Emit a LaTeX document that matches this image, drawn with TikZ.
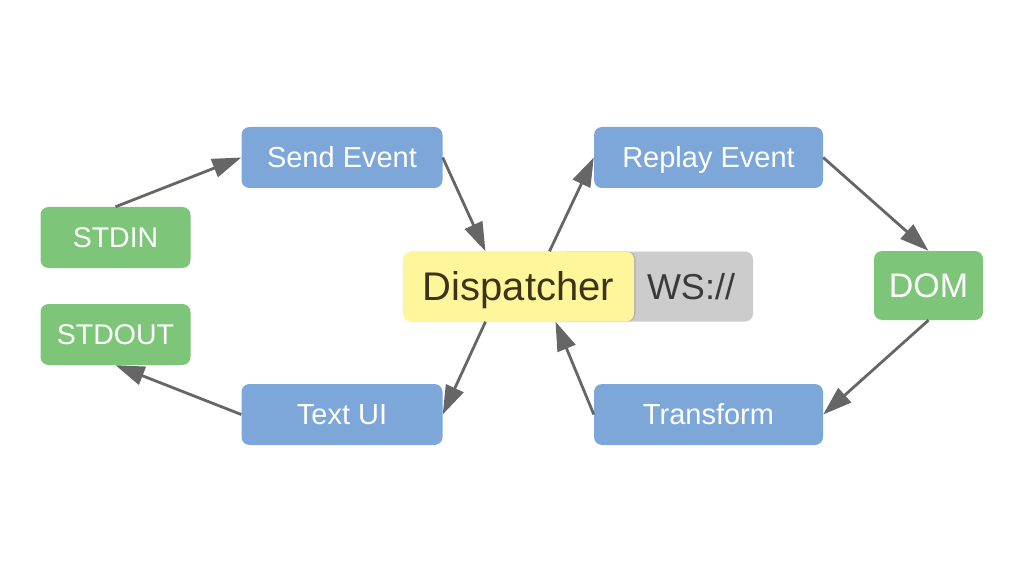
\documentclass[tikz,border=0pt]{standalone}
\usepackage{fontspec}
\setmainfont{Liberation Sans}
\usetikzlibrary{arrows.meta,shadows}

\definecolor{stepblue}{HTML}{7CA7D8}
\definecolor{iogreen}{HTML}{7DC679}
\definecolor{hubyellow}{HTML}{FFF59B}
\definecolor{hubtext}{HTML}{3A3518}
\definecolor{wsgray}{HTML}{CCCCCC}
\definecolor{wstext}{HTML}{3A3A3A}
\definecolor{linkgray}{HTML}{666666}

\tikzset{
  box/.style={rectangle, rounded corners=8pt, inner sep=0pt, text=white, text depth=0pt},
  stepbox/.style={box, fill=stepblue, minimum width=201pt, minimum height=61pt,
    font=\fontsize{29}{33}\selectfont, text height=20.8pt},
  iobox/.style={box, fill=iogreen, minimum width=150pt, minimum height=61pt,
    font=\fontsize{28.5}{32}\selectfont, text height=20.4pt},
  link/.style={draw=linkgray, line width=2.8pt, -{Triangle[length=29pt,width=19pt]}}
}

\begin{document}
\begin{tikzpicture}[x=1pt,y=-1pt]
    \useasboundingbox (0,0) rectangle (1025,572);
    % sources and sinks
    \node[iobox] (stdin) at (115.5,237.5) {STDIN};
    \node[iobox] (stdout) at (115.5,334.5) {STDOUT};
    \node[box, fill=iogreen, minimum width=109pt, minimum height=69pt,
      font=\fontsize{34}{38}\selectfont, text height=24.3pt] (dom) at (928.5,285.5) {DOM};
    % steps
    \node[stepbox] (send) at (342,157.5) {Send Event};
    \node[stepbox] (textui) at (342,414.5) {Text UI};
    \node[stepbox, minimum width=229pt] (replay) at (708.5,157.5) {Replay Event};
    \node[stepbox, minimum width=229pt] (transform) at (708.5,414.5) {Transform};
    % hub
    \node[box, fill=wsgray, text=wstext, minimum height=70pt, text width=157pt,
      inner xsep=18pt, align=right, font=\fontsize{36}{40}\selectfont,
      text height=25.8pt] (ws) at (656.5,286.5) {WS://};
    \node[box, fill=hubyellow, text=hubtext, minimum width=231pt, minimum height=70pt,
      font=\fontsize{40}{44}\selectfont, text height=28.6pt,
      drop shadow={shadow xshift=1.5pt, shadow yshift=0pt, opacity=0.35}]
      (disp) at (518.5,286.5) {Dispatcher};
    % flow
    \draw[link] (stdin.north) -- (send.west);
    \draw[link] (send.east) -- ([xshift=-33pt]disp.north);
    \draw[link] ([xshift=31pt]disp.north) -- (replay.west);
    \draw[link] (replay.east) -- (dom.north);
    \draw[link] (dom.south) -- (transform.east);
    \draw[link] (transform.west) -- ([xshift=37pt]disp.south);
    \draw[link] ([xshift=-33pt]disp.south) -- (textui.east);
    \draw[link] (textui.west) -- (stdout.south);
\end{tikzpicture}
\end{document}
